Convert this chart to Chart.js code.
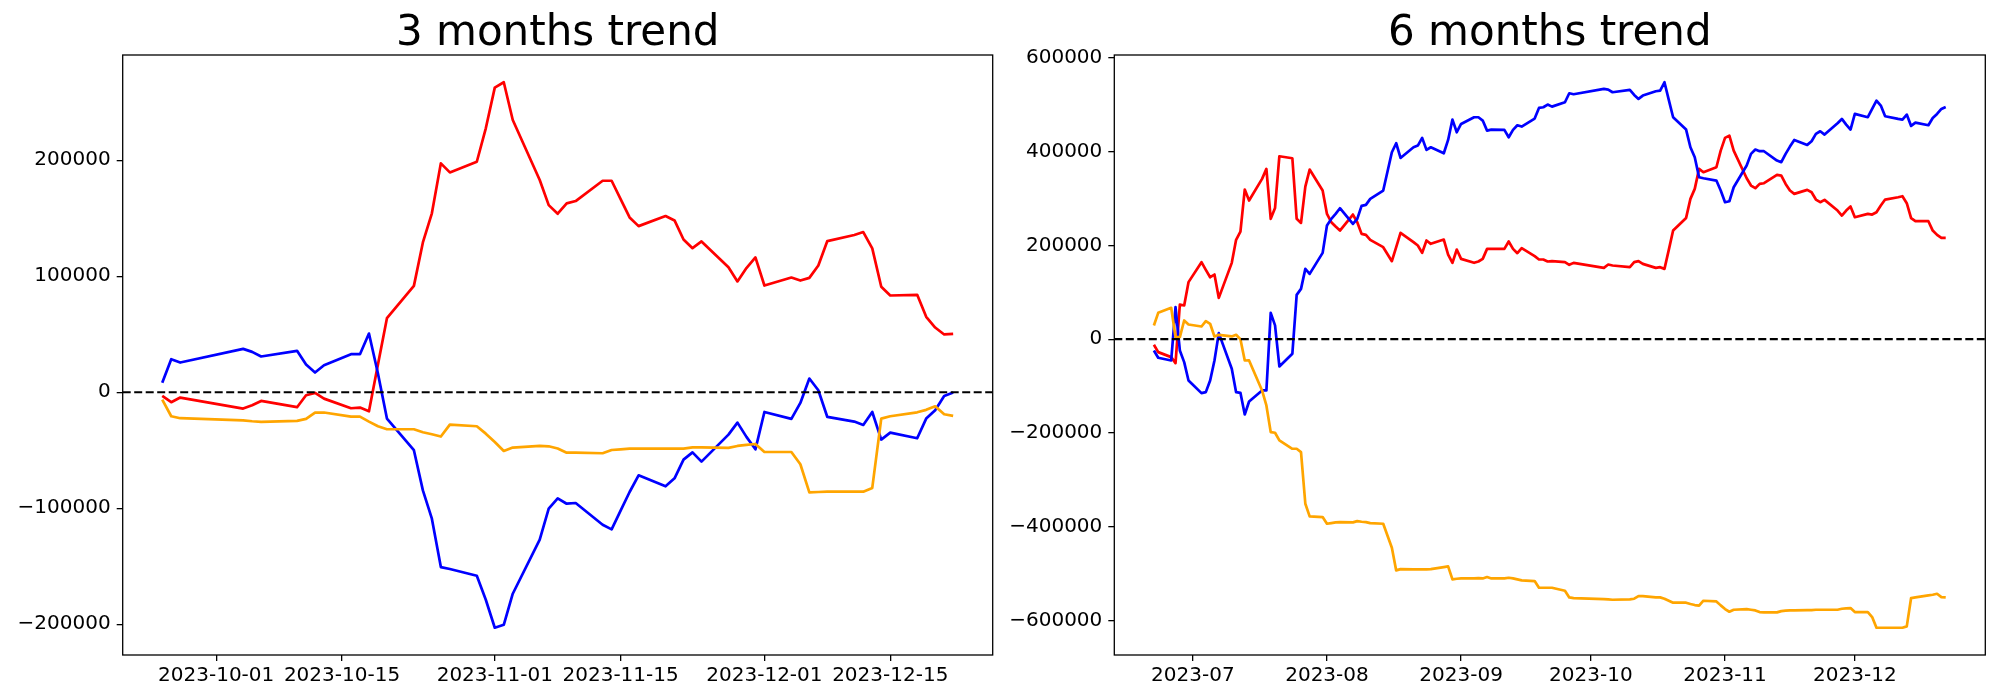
<!DOCTYPE html>
<html>
<head>
<meta charset="utf-8">
<script src="https://cdn.jsdelivr.net/npm/chart.js@4.4.1/dist/chart.umd.min.js"></script>
<style>
  html, body { margin:0; padding:0; background:#fff; }
  #wrap { position:relative; width:2000px; height:700px; }
  canvas { position:absolute; top:0; }
</style>
</head>
<body>
<div id="wrap">
  <canvas id="c3" width="1000" height="700" style="left:0"></canvas>
  <canvas id="c6" width="1000" height="700" style="left:1000px"></canvas>
</div>
<script>
// ---- 3 months ----
const DATES_3M = [
  '2023-09-25','2023-09-26','2023-09-27',
  '2023-10-04','2023-10-05','2023-10-06','2023-10-10','2023-10-11','2023-10-12','2023-10-13',
  '2023-10-16','2023-10-17','2023-10-18','2023-10-19','2023-10-20','2023-10-23','2023-10-24',
  '2023-10-25','2023-10-26','2023-10-27','2023-10-30','2023-10-31',
  '2023-11-01','2023-11-02','2023-11-03','2023-11-06','2023-11-07','2023-11-08','2023-11-09',
  '2023-11-10','2023-11-13','2023-11-14','2023-11-15','2023-11-16','2023-11-17','2023-11-20',
  '2023-11-21','2023-11-22','2023-11-23','2023-11-24','2023-11-27','2023-11-28','2023-11-29','2023-11-30',
  '2023-12-01','2023-12-04','2023-12-05','2023-12-06','2023-12-07','2023-12-08','2023-12-11',
  '2023-12-12','2023-12-13','2023-12-14','2023-12-15','2023-12-18','2023-12-19','2023-12-20',
  '2023-12-21','2023-12-22'
]
const RED_3M = [
  -3200,-8600,-4600,
  -14100,-11200,-7500,-12900,-2600,-600,-5500,
  -13800,-13200,-16400,24000,63800,91700,129100,
  154200,197300,189500,198700,227500,
  262600,267200,234700,182900,161300,153900,162800,
  164800,182300,182300,166500,150700,143200,151900,
  148100,131700,124200,130000,107800,95500,107000,116200,
  92000,98900,96300,98600,109300,130300,135500,
  138100,124000,90900,83400,84000,65000,55800,
  49800,50300
]
const BLUE_3M = [
  8100,28500,25600,
  37400,34800,30800,35700,23900,17000,23300,
  32800,32800,50600,16100,-22700,-50000,-84600,
  -109000,-150700,-152400,-158200,-178900,
  -203000,-200500,-173700,-127100,-100400,-91500,-96100,
  -95500,-114200,-118200,-102100,-86000,-71600,-81100,
  -74200,-58100,-51800,-59800,-36500,-26200,-38500,-49200,
  -17000,-23000,-9200,11800,1700,-21300,-25300,
  -28200,-17000,-40800,-34800,-39700,-22700,-15500,
  -3200,-300
]
const ORANGE_3M = [
  -6300,-20700,-22400,
  -24200,-25000,-25600,-24700,-23000,-17500,-17500,
  -21000,-21000,-25300,-29300,-31900,-31900,-34500,
  -36200,-38200,-27900,-29300,-35700,
  -42900,-50600,-47700,-46300,-46600,-48500,-52100,
  -52100,-52600,-49800,-49200,-48600,-48600,-48600,
  -48600,-48600,-47500,-47500,-48000,-46300,-45400,-44600,
  -51500,-51500,-62100,-86300,-86000,-85700,-85700,
  -85700,-82500,-22700,-20700,-17300,-15200,-12100,
  -19000,-20400
]
const XTICKS_3M = ['2023-10-01','2023-10-15','2023-11-01','2023-11-15','2023-12-01','2023-12-15']
const YTICKS_3M = [-200000,-100000,0,100000,200000]

// ---- 6 months ----
const DATES_6M = [
  '2023-06-22','2023-06-23','2023-06-26','2023-06-27','2023-06-28','2023-06-29','2023-06-30',
  '2023-07-03','2023-07-04','2023-07-05','2023-07-06','2023-07-07','2023-07-10','2023-07-11',
  '2023-07-12','2023-07-13','2023-07-14','2023-07-17','2023-07-18','2023-07-19','2023-07-20',
  '2023-07-21','2023-07-24','2023-07-25','2023-07-26','2023-07-27','2023-07-28','2023-07-31',
  '2023-08-01','2023-08-02','2023-08-03','2023-08-04','2023-08-07','2023-08-08','2023-08-09',
  '2023-08-10','2023-08-11','2023-08-14','2023-08-16','2023-08-17','2023-08-18','2023-08-21',
  '2023-08-22','2023-08-23','2023-08-24','2023-08-25','2023-08-28','2023-08-29','2023-08-30','2023-08-31',
  '2023-09-01','2023-09-04','2023-09-05','2023-09-06','2023-09-07','2023-09-08','2023-09-11',
  '2023-09-12','2023-09-13','2023-09-14','2023-09-15','2023-09-18','2023-09-19','2023-09-20',
  '2023-09-21','2023-09-22','2023-09-25','2023-09-26','2023-09-27',
  '2023-10-04','2023-10-05','2023-10-06','2023-10-10','2023-10-11','2023-10-12','2023-10-13',
  '2023-10-16','2023-10-17','2023-10-18','2023-10-19','2023-10-20','2023-10-23','2023-10-24',
  '2023-10-25','2023-10-26','2023-10-27','2023-10-30','2023-10-31',
  '2023-11-01','2023-11-02','2023-11-03','2023-11-06','2023-11-07','2023-11-08','2023-11-09',
  '2023-11-10','2023-11-13','2023-11-14','2023-11-15','2023-11-16','2023-11-17','2023-11-20',
  '2023-11-21','2023-11-22','2023-11-23','2023-11-24','2023-11-27','2023-11-28','2023-11-29','2023-11-30',
  '2023-12-01','2023-12-04','2023-12-05','2023-12-06','2023-12-07','2023-12-08','2023-12-11',
  '2023-12-12','2023-12-13','2023-12-14','2023-12-15','2023-12-18','2023-12-19','2023-12-20',
  '2023-12-21','2023-12-22'
]
const RED_6M = [
  -11900,-27600,-38300,-51100,74000,71900,121700,
  164300,147900,132200,137900,88100,162800,211900,
  229600,319200,295800,342000,363300,256700,280100,
  390300,386000,256700,248100,325600,361900,317100,
  267300,249500,240300,231700,265900,249500,224700,
  222600,211900,196300,166400,196300,226800,207000,
  199800,184200,210500,203400,212600,180600,162900,191300,
  171400,162900,165700,171400,192700,192700,192700,
  208400,192700,183500,194100,177100,170000,170000,
  165700,166400,164300,158600,162800,
  152200,159300,157200,153600,164300,166400,160700,
  152200,153600,150000,190500,231700,258700,299300,
  320600,363300,356200,366800,402400,
  429400,434400,402400,343400,327800,322100,331300,
  332700,350500,349100,331300,317100,310000,318500,
  313500,297900,292200,297200,274500,263800,274500,283000,
  260200,267300,265900,270900,285100,297900,302900,
  305000,290100,258100,251700,251700,231700,222500,
  216100,216100
]
const BLUE_6M = [
  -24100,-39700,-45400,68200,-24100,-49000,-88100,
  -115100,-113000,-88100,-45400,12900,-63200,-113000,
  -114400,-160600,-132900,-109400,-109400,56200,29400,
  -58200,-31100,94600,107400,150000,139300,184200,
  242400,256700,267300,279400,246000,256700,284400,
  286600,299300,317100,398800,418000,386700,409500,
  413100,429400,403800,409500,396700,425100,468500,441500,
  459200,473500,473500,466400,445000,447200,446500,
  430800,446500,456400,453600,470600,493400,494800,
  500500,496200,505500,524700,522600,
  533900,532500,526800,531800,521100,512600,519700,
  528900,530300,548100,510400,473500,447200,409500,
  388200,345500,343400,338400,317100,
  292200,294300,324100,370400,395300,404600,401000,
  401000,381100,377500,395300,410900,425100,414500,
  422300,437900,443600,436500,460600,469900,457800,447200,
  480600,473500,491200,509000,498300,475600,469900,
  468500,479200,455000,462100,456400,472000,480600,
  491200,495500
]
const ORANGE_6M = [
  29200,56200,66900,4300,4300,39900,31400,
  27100,38500,32800,5800,9300,5800,9300,
  0,-45500,-45400,-109400,-141400,-198300,-199700,
  -216000,-233800,-233800,-240900,-351100,-378100,-379500,
  -393800,-392300,-390900,-390200,-390900,-388100,-389500,
  -390200,-392300,-393800,-445000,-493300,-490500,-491200,
  -491200,-491200,-491200,-490500,-486200,-484800,-512500,-511100,
  -510400,-510400,-509700,-510400,-507500,-510400,-510400,
  -509000,-510400,-512500,-514600,-516100,-530300,-530300,
  -530300,-530300,-536700,-550900,-552300,
  -554400,-555200,-555900,-555200,-553700,-548100,-548100,
  -550900,-550900,-553700,-558000,-562200,-562200,-565100,
  -567200,-568600,-558000,-559400,-567900,
  -575800,-581500,-577200,-575800,-577200,-578600,-582200,
  -582900,-582900,-580100,-579300,-578600,-578600,-577900,
  -577900,-577200,-577200,-577200,-577200,-575100,-574300,-573600,
  -582200,-582200,-592800,-615600,-615600,-615600,-615600,
  -615600,-612700,-552300,-550900,-546600,-545200,-543100,
  -550200,-550900
]
const XTICKS_6M = ['2023-07','2023-08','2023-09','2023-10','2023-11','2023-12']
const YTICKS_6M = [-600000,-400000,-200000,0,200000,400000,600000]

Chart.defaults.font.family = "'DejaVu Sans', sans-serif"
Chart.defaults.color = '#000'

const dayNum = s => {
  const [y, m, d] = (s.length === 7 ? s + '-01' : s).split('-').map(Number)
  return Date.UTC(y, m - 1, d) / 86400000
}
const fmtY = v => v < 0 ? '\u2212' + Math.abs(v) : String(v)

// top/right spines
const frame = {
  id: 'frame',
  afterDatasetsDraw(chart) {
    const { ctx, chartArea: a } = chart
    ctx.save()
    ctx.strokeStyle = '#000'
    ctx.lineWidth = 1.3
    ctx.strokeRect(a.left, a.top, a.right - a.left, a.bottom - a.top)
    ctx.restore()
  }
}

function trendChart(id, title, dates, red, blue, orange, xTicks, yTicks, yAxisW, padRight) {
  const xs = dates.map(dayNum)
  const x0 = xs[0], x1 = xs[xs.length - 1], xm = (x1 - x0) * 0.05
  const all = [...red, ...blue, ...orange]
  const lo = Math.min(...all), hi = Math.max(...all), ym = (hi - lo) * 0.05
  const pts = arr => arr.map((v, i) => ({ x: xs[i], y: v }))
  const xTickVals = xTicks.map(dayNum)
  const line = (data, color, order) => ({
    data: pts(data), borderColor: color, borderWidth: 2.7,
    pointRadius: 0, tension: 0, fill: false, order,
    borderJoinStyle: 'round'
  })

  new Chart(document.getElementById(id), {
    type: 'line',
    data: { datasets: [
      line(red, '#ff0000', 4),
      line(blue, '#0000ff', 3),
      line(orange, '#ffa500', 2),
      { data: [{ x: x0 - xm, y: 0 }, { x: x1 + xm, y: 0 }], borderColor: '#000',
        borderWidth: 2.2, borderDash: [8, 3.5], pointRadius: 0, order: 1 }
    ]},
    options: {
      responsive: false, animation: false,
      layout: { padding: { left: 0, right: padRight, top: 0, bottom: 0 } },
      plugins: {
        legend: { display: false },
        tooltip: { enabled: false },
        title: {
          display: true, text: title, fullSize: false, color: '#000',
          font: { size: 42, weight: 'normal', lineHeight: 1 },
          padding: { top: 13, bottom: 0 }
        }
      },
      scales: {
        x: {
          type: 'linear', min: x0 - xm, max: x1 + xm,
          afterBuildTicks: ax => { ax.ticks = xTickVals.map(v => ({ value: v })) },
          afterFit: ax => { ax.height = 45 },
          ticks: {
            autoSkip: false, maxRotation: 0, padding: 3, font: { size: 20 },
            callback: v => xTicks[xTickVals.indexOf(v)]
          },
          grid: { drawOnChartArea: false, drawTicks: true, tickLength: 6, color: '#000', lineWidth: 1.3 },
          border: { display: false }
        },
        y: {
          min: lo - ym, max: hi + ym,
          afterBuildTicks: ax => { ax.ticks = yTicks.map(v => ({ value: v })) },
          afterFit: ax => { ax.width = yAxisW },
          ticks: { padding: 6, font: { size: 20 }, callback: fmtY },
          grid: { drawOnChartArea: false, drawTicks: true, tickLength: 6, color: '#000', lineWidth: 1.3 },
          border: { display: false }
        }
      }
    },
    plugins: [frame]
  })
}

trendChart('c3', '3 months trend', DATES_3M, RED_3M, BLUE_3M, ORANGE_3M, XTICKS_3M, YTICKS_3M, 122.7, 7.3)
trendChart('c6', '6 months trend', DATES_6M, RED_6M, BLUE_6M, ORANGE_6M, XTICKS_6M, YTICKS_6M, 114.3, 14.7)
</script>
</body>
</html>
